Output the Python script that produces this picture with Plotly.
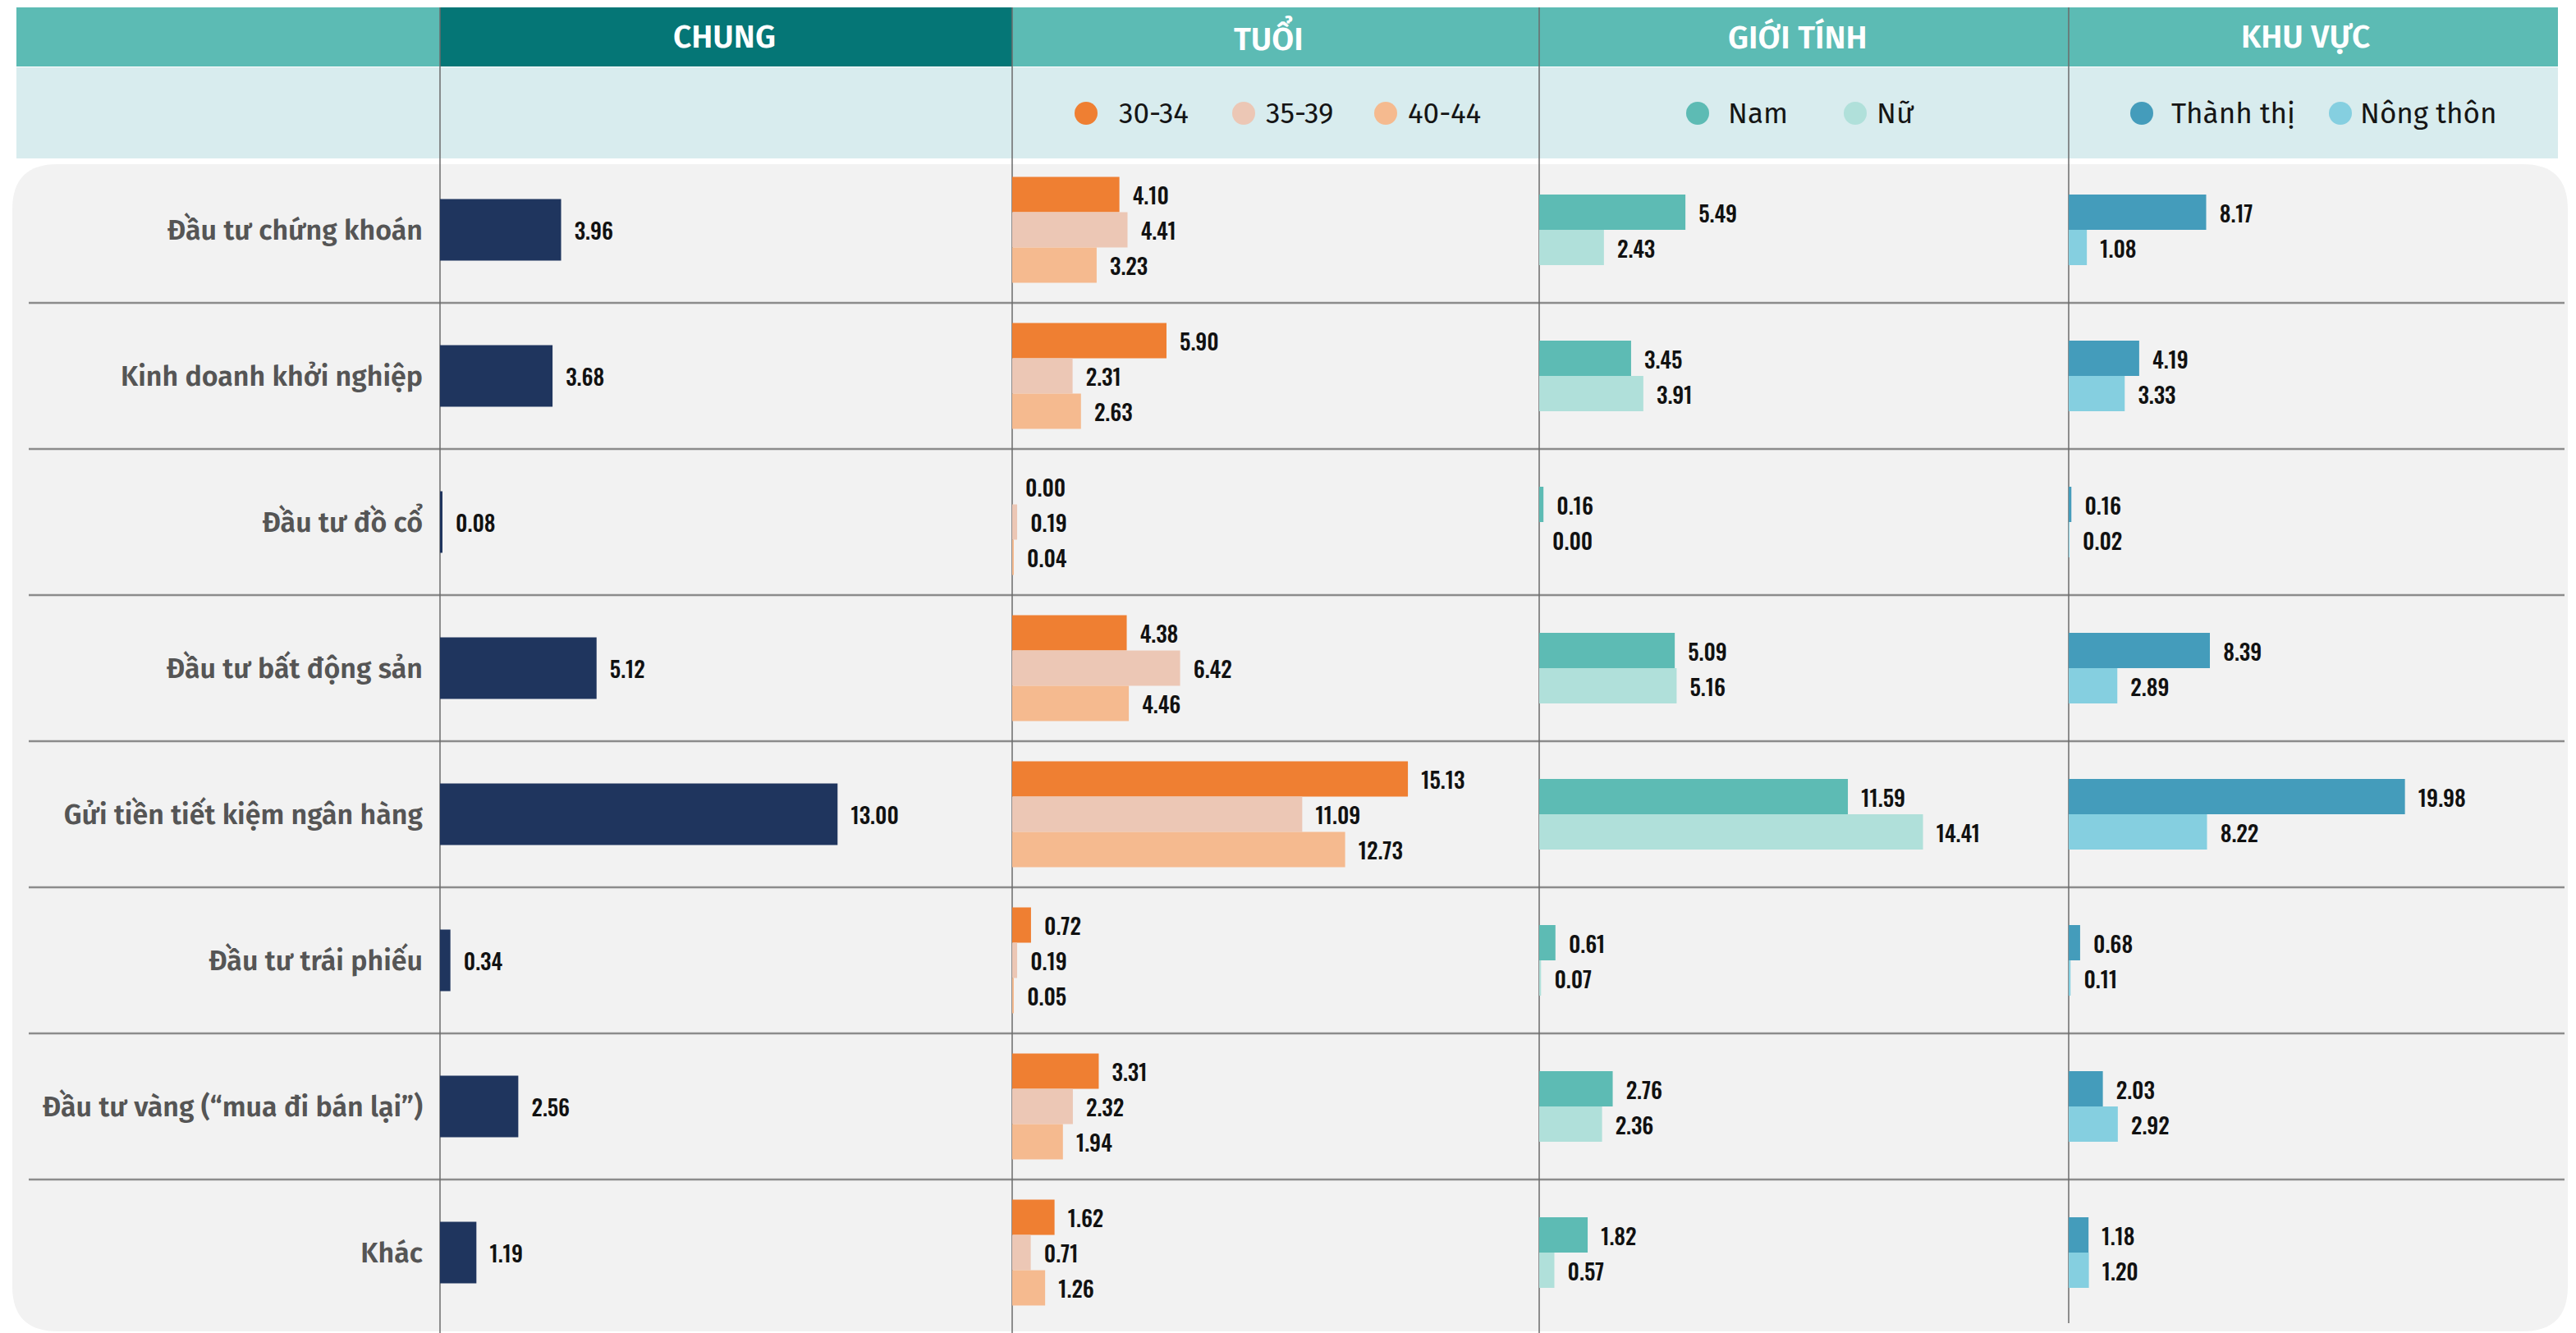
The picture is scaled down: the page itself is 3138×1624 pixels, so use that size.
import plotly.graph_objects as go

W, H = 3138, 1624

categories = ["Đầu tư chứng khoán", "Kinh doanh khởi nghiệp", "Đầu tư đồ cổ",
              "Đầu tư bất động sản", "Gửi tiền tiết kiệm ngân hàng", "Đầu tư trái phiếu",
              "Đầu tư vàng (“mua đi bán lại”)", "Khác"]

chung = [3.96, 3.68, 0.08, 5.12, 13.00, 0.34, 2.56, 1.19]
age_30_34 = [4.10, 5.90, 0.00, 4.38, 15.13, 0.72, 3.31, 1.62]
age_35_39 = [4.41, 2.31, 0.19, 6.42, 11.09, 0.19, 2.32, 0.71]
age_40_44 = [3.23, 2.63, 0.04, 4.46, 12.73, 0.05, 1.94, 1.26]
nam = [5.49, 3.45, 0.16, 5.09, 11.59, 0.61, 2.76, 1.82]
nu = [2.43, 3.91, 0.00, 5.16, 14.41, 0.07, 2.36, 0.57]
thanh_thi = [8.17, 4.19, 0.16, 8.39, 19.98, 0.68, 2.03, 1.18]
nong_thon = [1.08, 3.33, 0.02, 2.89, 8.22, 0.11, 2.92, 1.20]

panel_titles = ["CHUNG", "TUỔI", "GIỚI TÍNH", "KHU VỰC"]
age_names = ["30-34", "35-39", "40-44"]
gender_names = ["Nam", "Nữ"]
area_names = ["Thành thị", "Nông thôn"]

C_NAVY = "#1F355E"
AGE_COLORS = ["#EF7F32", "#ECC7B5", "#F5BA8F"]
GENDER_COLORS = ["#5DBBB4", "#B0E0DA"]
AREA_COLORS = ["#449CBB", "#85CFE0"]

NUM_FONT = dict(family="Oswald, Roboto Condensed, sans-serif",
                size=27, color="#111111", weight=500)
LBL = "Fira Sans, Lato, sans-serif"


def px(x):
    return x / W


def py(y):
    return 1 - y / H


# column boundaries (pixels)
cols = [536, 1233, 1875, 2520, 3116]
x_ranges = [18.71, 20.15, 19.88, 29.07]

ROW_PX = 178.0
ROW0 = 280.0
BW = 43 / ROW_PX

fig = go.Figure()


def add_bar(vals, axis, color, width, offset, name):
    fig.add_trace(go.Bar(
        x=vals, y=categories, orientation="h", xaxis=axis, yaxis="y",
        marker=dict(color=color, line=dict(width=0)), width=width, offset=offset,
        text=vals, texttemplate="\u00a0\u00a0%{x:.2f}", textposition="outside",
        textfont=NUM_FONT, cliponaxis=False, constraintext="none", name=name,
        showlegend=False, hovertemplate=name + ": %{x:.2f}<extra></extra>"))


add_bar(chung, "x", C_NAVY, 75 / ROW_PX, -75 / ROW_PX / 2, "Chung")
for i, (vals, c, n) in enumerate(zip([age_30_34, age_35_39, age_40_44], AGE_COLORS, age_names)):
    add_bar(vals, "x2", c, BW, -1.5 * BW + i * BW, n)
for i, (vals, c, n) in enumerate(zip([nam, nu], GENDER_COLORS, gender_names)):
    add_bar(vals, "x3", c, BW, -BW + i * BW, n)
for i, (vals, c, n) in enumerate(zip([thanh_thi, nong_thon], AREA_COLORS, area_names)):
    add_bar(vals, "x4", c, BW, -BW + i * BW, n)

shapes = []
# header band
shapes.append(dict(type="rect", xref="paper", yref="paper", x0=px(20), x1=px(3116),
                   y0=py(81), y1=py(9), fillcolor="#5CBBB4", line=dict(width=0), layer="below"))
shapes.append(dict(type="rect", xref="paper", yref="paper", x0=px(536), x1=px(1233),
                   y0=py(81), y1=py(9), fillcolor="#057676", line=dict(width=0), layer="below"))
# light band
shapes.append(dict(type="rect", xref="paper", yref="paper", x0=px(20), x1=px(3116),
                   y0=py(193), y1=py(82), fillcolor="#D8ECEE", line=dict(width=0), layer="below"))
# rounded panel
x0, x1, y0, y1, r = 15, 3128, 200, 1622, 55
pts = [("M", x0 + r, y0), ("L", x1 - r, y0), ("Q", x1, y0, x1, y0 + r), ("L", x1, y1 - r),
       ("Q", x1, y1, x1 - r, y1), ("L", x0 + r, y1), ("Q", x0, y1, x0, y1 - r),
       ("L", x0, y0 + r), ("Q", x0, y0, x0 + r, y0)]
path = ""
for p in pts:
    cmd = p[0]
    coords = p[1:]
    s = []
    for k in range(0, len(coords), 2):
        s.append(f"{px(coords[k]):.6f},{py(coords[k + 1]):.6f}")
    path += cmd + " " + " ".join(s) + " "
path += "Z"
shapes.append(dict(type="path", xref="paper", yref="paper", path=path,
                   fillcolor="#F2F2F2", line=dict(width=0), layer="below"))
# row separators
for i in range(len(categories) - 1):
    shapes.append(dict(type="line", xref="paper", yref="y", x0=px(35), x1=px(3124),
                       y0=i + 0.5, y1=i + 0.5, line=dict(color="#8C8C8C", width=2.5), layer="below"))
# column dividers
for j, cx in enumerate(cols[:4]):
    yend = 1612 if j == 3 else 1624
    shapes.append(dict(type="line", xref="paper", yref="paper", x0=px(cx), x1=px(cx),
                       y0=py(yend), y1=py(9), line=dict(color="#6B6B6B", width=1.5), layer="below"))

annotations = []
title_centers = [882, 1545, 2190, 2808]
for t, cx in zip(panel_titles, title_centers):
    annotations.append(dict(text=t, xref="paper", yref="paper", x=px(cx), y=py(45),
                            showarrow=False, xanchor="center", yanchor="middle",
                            font=dict(family=LBL, size=39, color="white", weight=600)))

legend_items = [
    (age_names[0], AGE_COLORS[0], 1323, 1361),
    (age_names[1], AGE_COLORS[1], 1515, 1540),
    (age_names[2], AGE_COLORS[2], 1688, 1713),
    (gender_names[0], GENDER_COLORS[0], 2068, 2103),
    (gender_names[1], GENDER_COLORS[1], 2260, 2284),
    (area_names[0], AREA_COLORS[0], 2609, 2643),
    (area_names[1], AREA_COLORS[1], 2851, 2873),
]
LY = 138
for name, color, cx, tx in legend_items:
    shapes.append(dict(type="circle", xref="paper", yref="paper",
                       x0=px(cx - 14), x1=px(cx + 14), y0=py(LY + 14), y1=py(LY - 14),
                       fillcolor=color, line=dict(width=0), layer="above"))
    annotations.append(dict(text=name, xref="paper", yref="paper", x=px(tx), y=py(LY),
                            showarrow=False, xanchor="left", yanchor="middle",
                            font=dict(family=LBL, size=35, color="#151515", weight=400)))

layout = dict(
    width=W, height=H, margin=dict(l=0, r=0, t=0, b=0),
    paper_bgcolor="white", plot_bgcolor="rgba(0,0,0,0)",
    barmode="overlay", shapes=shapes, annotations=annotations, showlegend=False,
    yaxis=dict(domain=[0, 1], anchor="x", type="category", categoryorder="array",
               categoryarray=categories, range=[(H - ROW0) / ROW_PX, -ROW0 / ROW_PX],
               showgrid=False, zeroline=False, showline=False, ticks="",
               ticklabelstandoff=20, automargin=False,
               tickfont=dict(family=LBL, size=34, color="#555555", weight=600)),
)
for k in range(4):
    key = "xaxis" if k == 0 else f"xaxis{k + 1}"
    layout[key] = dict(domain=[px(cols[k]), px(cols[k + 1])], range=[0, x_ranges[k]],
                       anchor="y", visible=False, showgrid=False, zeroline=False,
                       fixedrange=True)
fig.update_layout(**layout)

fig.write_html("out.html", config={"displayModeBar": False},
               post_script="document.body.style.margin='0';document.body.style.overflow='hidden';")
